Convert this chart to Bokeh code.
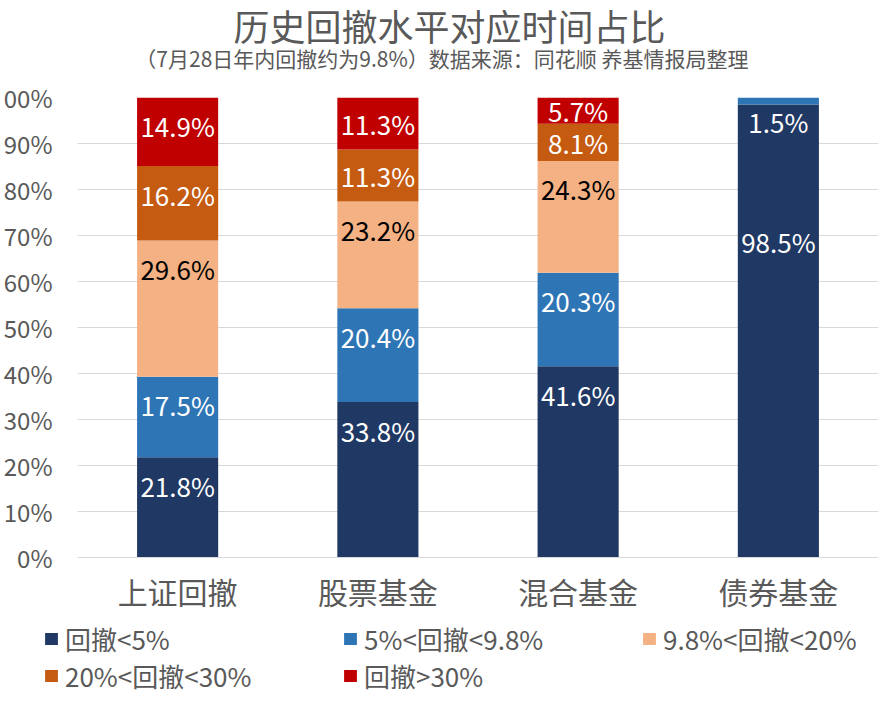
from bokeh.plotting import figure
from bokeh.layouts import column
from bokeh.models import ColumnDataSource, Legend, LegendItem, Title, FixedTicker, Range1d, FactorRange
from bokeh.embed import file_html
from bokeh.resources import INLINE

# ---- data ----
categories = ["上证回撤", "股票基金", "混合基金", "债券基金"]
series_names = ["回撤<5%", "5%<回撤<9.8%", "9.8%<回撤<20%", "20%<回撤<30%", "回撤>30%"]
lt5 = [21.8, 33.8, 41.6, 98.5]
r5_98 = [17.5, 20.4, 20.3, 1.5]
r98_20 = [29.6, 23.2, 24.3, 0.0]
r20_30 = [16.2, 11.3, 8.1, 0.0]
gt30 = [14.9, 11.3, 5.7, 0.0]
y_ticks = [0, 10, 20, 30, 40, 50, 60, 70, 80, 90, 100]
y_tick_labels = ["0%", "10%", "20%", "30%", "40%", "50%", "60%", "70%", "80%", "90%", "00%"]
title_text = "历史回撤水平对应时间占比"
subtitle_text = "（7月28日年内回撤约为9.8%）数据来源：同花顺 养基情报局整理"

# ---- style ----
colors = ["#203864", "#2E75B6", "#F4B183", "#C55A11", "#C00000"]
label_colors = ["#FFFFFF", "#FFFFFF", "#000000", "#FFFFFF", "#FFFFFF"]
FONT = "Noto Sans CJK SC"
GRAY = "#595959"
W = 878
H_MAIN, H_LEG = 620, 74
B_LEFT, B_TOP, B_BOTTOM = 73, 97, 63
FRAME_H = H_MAIN - B_TOP - B_BOTTOM
LABEL_PAD = 28.0 / FRAME_H * 100.0   # inside-end padding in data units
manual_label_y = {(3, 0): 68.6}        # label dragged by hand in the original

keys = ["s0", "s1", "s2", "s3", "s4"]
series = [lt5, r5_98, r98_20, r20_30, gt30]
data = {"cat": categories}
for k, s in zip(keys, series):
    data[k] = s
src = ColumnDataSource(data)

p = figure(width=W, height=H_MAIN, x_range=FactorRange(*categories), y_range=Range1d(0, 100),
           output_backend="svg", toolbar_location=None,
           min_border_left=B_LEFT, min_border_right=0, min_border_top=B_TOP, min_border_bottom=B_BOTTOM)
p.frame_align = False
p.outline_line_color = None
p.background_fill_color = "white"
p.border_fill_color = "white"

renderers = p.vbar_stack(keys, x="cat", width=0.405, source=src, fill_color=colors, line_color=None)

# data labels
lx, ly, lt, lc = [], [], [], []
for ci, cat in enumerate(categories):
    bottom = 0.0
    for si, s in enumerate(series):
        v = s[ci]
        top = bottom + v
        if v > 0:
            if (ci, si) in manual_label_y:
                y = manual_label_y[(ci, si)]
            elif v >= 2 * LABEL_PAD:
                y = top - LABEL_PAD
            elif v >= 5:
                y = (top + bottom) / 2
            else:
                y = top - LABEL_PAD * 0.86
            lx.append(cat); ly.append(y); lt.append(f"{v:.1f}%"); lc.append(label_colors[si])
        bottom = top
lsrc = ColumnDataSource(dict(x=lx, y=ly, t=lt, c=lc))
p.text(x="x", y="y", text="t", text_color="c", source=lsrc, text_align="center",
       text_baseline="middle", text_font_size="26px", text_font={"value": FONT})

# axes
p.xgrid.grid_line_color = None
p.ygrid.grid_line_color = "#D9D9D9"
p.ygrid.grid_line_width = 1
p.yaxis.ticker = FixedTicker(ticks=y_ticks)
p.yaxis.major_label_overrides = {t: l for t, l in zip(y_ticks, y_tick_labels)}
p.yaxis.axis_line_color = None
p.yaxis.major_tick_line_color = None
p.yaxis.minor_tick_line_color = None
p.yaxis.major_tick_out = 0
p.yaxis.major_tick_in = 0
p.yaxis.major_label_standoff = 25
p.yaxis.major_label_text_font = FONT
p.yaxis.major_label_text_font_size = "24px"
p.yaxis.major_label_text_color = GRAY

p.xaxis.axis_line_color = "#D9D9D9"
p.xaxis.major_tick_line_color = None
p.xaxis.major_tick_out = 0
p.xaxis.major_tick_in = 0
p.xaxis.major_label_standoff = 11
p.xaxis.major_label_text_font = FONT
p.xaxis.major_label_text_font_size = "30px"
p.xaxis.major_label_text_color = GRAY

# titles
sub = Title(text=subtitle_text, align="right", offset=130, text_font=FONT, text_font_size="21px",
            text_color=GRAY, text_font_style="normal", standoff=49)
ttl = Title(text=title_text, align="right", offset=213, text_font=FONT, text_font_size="36px",
            text_color=GRAY, text_font_style="normal", standoff=-68)
p.add_layout(sub, "above")
p.add_layout(ttl, "above")

# legend strip (own canvas so the legend is not clipped by the bar frame)
pl = figure(width=W, height=H_LEG, x_range=Range1d(0, 1), y_range=Range1d(0, 1),
            x_axis_type=None, y_axis_type=None,
            output_backend="svg", toolbar_location=None,
            min_border_left=0, min_border_right=0, min_border_top=0, min_border_bottom=0)
pl.frame_align = False
pl.grid.visible = False
pl.outline_line_color = None
pl.background_fill_color = "white"
pl.border_fill_color = "white"
# one off-screen bar per series only to give the legend its swatch
icons = [pl.vbar(x=[-5], top=[-5], bottom=[-6], width=0.1, fill_color=c, line_color=None) for c in colors]
items = [LegendItem(label=n, renderers=[r]) for n, r in zip(series_names, icons)]
legend = Legend(items=items, orientation="horizontal", ncols=3, location=(43, 0),
                glyph_width=16, glyph_height=15, label_standoff=6, label_width=277,
                label_height=32, spacing=0, padding=0, margin=0,
                label_text_font=FONT, label_text_font_size="26px", label_text_color=GRAY,
                background_fill_alpha=0, border_line_color=None)
pl.add_layout(legend, "center")

open("out.html", "w").write(file_html(column(p, pl, spacing=0), INLINE))
